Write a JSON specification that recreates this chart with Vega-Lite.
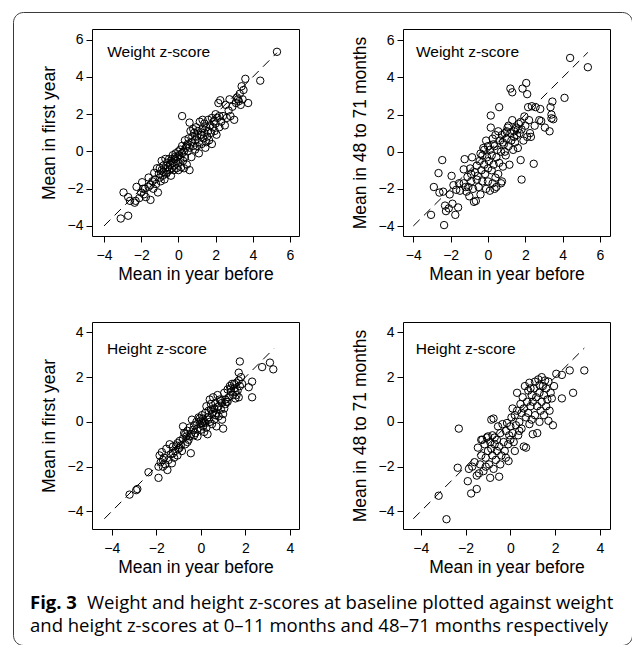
{
"$schema": "https://vega.github.io/schema/vega-lite/v6.json",
"width": 619, "height": 633,
"autosize": {"type": "none"},
"padding": {"left": 13, "top": 12, "right": 0, "bottom": 0},
"background": "white",
"config": {
 "font": "Liberation Sans",
 "view": {"stroke": "#3a3a3a", "strokeWidth": 1, "cornerRadius": 10},
 "text": {"font": "Liberation Sans"},
 "axis": {"grid": false, "domainColor": "black", "domainWidth": 1, "tickColor": "black", "tickSize": 6, "labelColor": "black", "labelFont": "Liberation Sans", "labelFontSize": 14, "titleFont": "Liberation Sans", "titleFontSize": 17.5, "titleFontWeight": "normal", "titleColor": "black", "labelFlush": false, "labelOverlap": false},
 "axisX": {"labelPadding": 6, "titlePadding": 3},
 "axisY": {"labelPadding": 3, "titlePadding": 9}
},
"datasets": {
 "p1": [{"x":-3.1,"y":-3.6},{"x":-2.7,"y":-3.45},{"x":-2.95,"y":-2.2},{"x":-2.7,"y":-2.45},{"x":-2.6,"y":-2.65},{"x":-2.35,"y":-2.75},{"x":-2.3,"y":-2.65},{"x":-2.25,"y":-1.9},{"x":-2.0,"y":-2.2},{"x":-1.95,"y":-1.65},{"x":-1.85,"y":-2.3},{"x":-1.8,"y":-2.0},{"x":-1.75,"y":-2.45},{"x":-1.6,"y":-1.9},{"x":-1.5,"y":-2.6},{"x":-1.5,"y":-1.8},{"x":-1.4,"y":-1.6},{"x":-1.35,"y":-2.0},{"x":-1.3,"y":-1.15},{"x":-1.25,"y":-1.5},{"x":-1.2,"y":-1.75},{"x":-1.1,"y":-2.2},{"x":-1.05,"y":-1.2},{"x":-1.0,"y":-0.9},{"x":-1.0,"y":-1.4},{"x":-0.95,"y":-1.6},{"x":-0.9,"y":-1.0},{"x":-0.85,"y":-1.3},{"x":-0.8,"y":-0.75},{"x":-0.8,"y":-1.1},{"x":-0.75,"y":-1.5},{"x":-0.7,"y":-0.9},{"x":-0.65,"y":-1.2},{"x":-0.6,"y":-0.6},{"x":-0.55,"y":-0.85},{"x":-0.5,"y":-1.0},{"x":-0.5,"y":-0.4},{"x":-0.45,"y":-0.7},{"x":-0.4,"y":-1.3},{"x":-0.4,"y":-0.5},{"x":-0.35,"y":-0.9},{"x":-0.3,"y":-0.2},{"x":-0.3,"y":-0.6},{"x":-0.25,"y":-1.0},{"x":-0.2,"y":-0.4},{"x":-0.2,"y":-0.75},{"x":-0.15,"y":-0.1},{"x":-0.1,"y":-0.5},{"x":-0.1,"y":-0.9},{"x":-0.05,"y":-0.3},{"x":0.0,"y":0.0},{"x":0.0,"y":-0.6},{"x":0.05,"y":-0.2},{"x":0.1,"y":-0.4},{"x":0.1,"y":0.1},{"x":0.15,"y":-0.85},{"x":0.2,"y":-0.1},{"x":0.2,"y":0.3},{"x":0.25,"y":-0.5},{"x":0.3,"y":0.0},{"x":0.35,"y":0.6},{"x":0.35,"y":-0.3},{"x":0.4,"y":0.2},{"x":0.45,"y":-0.7},{"x":0.5,"y":0.4},{"x":0.5,"y":0.0},{"x":0.55,"y":0.7},{"x":0.6,"y":-1.0},{"x":0.6,"y":0.2},{"x":0.65,"y":1.1},{"x":0.7,"y":0.5},{"x":0.7,"y":-0.3},{"x":0.75,"y":0.8},{"x":0.8,"y":0.3},{"x":0.85,"y":1.0},{"x":0.9,"y":0.1},{"x":0.9,"y":0.6},{"x":0.95,"y":1.3},{"x":1.0,"y":0.8},{"x":1.0,"y":0.3},{"x":1.05,"y":1.1},{"x":1.1,"y":0.5},{"x":1.1,"y":-0.1},{"x":1.15,"y":1.6},{"x":1.2,"y":0.9},{"x":1.25,"y":0.4},{"x":1.3,"y":1.2},{"x":1.35,"y":0.7},{"x":1.4,"y":1.5},{"x":1.4,"y":1.0},{"x":1.45,"y":0.2},{"x":1.5,"y":1.3},{"x":1.55,"y":0.8},{"x":1.6,"y":1.7},{"x":1.6,"y":1.1},{"x":1.65,"y":0.6},{"x":1.7,"y":1.4},{"x":1.75,"y":1.0},{"x":1.8,"y":1.8},{"x":1.8,"y":0.4},{"x":1.85,"y":1.3},{"x":1.9,"y":1.6},{"x":1.95,"y":1.1},{"x":2.0,"y":2.0},{"x":2.0,"y":1.5},{"x":2.05,"y":0.9},{"x":2.1,"y":1.8},{"x":2.15,"y":2.6},{"x":2.2,"y":1.3},{"x":2.25,"y":2.75},{"x":2.3,"y":1.6},{"x":2.4,"y":1.9},{"x":2.5,"y":1.4},{"x":2.6,"y":1.8},{"x":2.7,"y":2.2},{"x":2.75,"y":2.8},{"x":2.8,"y":1.9},{"x":2.9,"y":2.4},{"x":3.0,"y":1.7},{"x":3.1,"y":2.6},{"x":3.15,"y":2.9},{"x":3.25,"y":2.7},{"x":3.3,"y":3.1},{"x":3.35,"y":2.5},{"x":3.4,"y":3.5},{"x":3.45,"y":2.8},{"x":3.5,"y":3.3},{"x":3.6,"y":3.9},{"x":3.75,"y":2.6},{"x":4.4,"y":3.8},{"x":5.3,"y":5.35},{"x":0.2,"y":1.9},{"x":0.6,"y":1.55},{"x":-0.6,"y":-1.1},{"x":-0.9,"y":-0.5},{"x":-1.15,"y":-0.9},{"x":0.3,"y":-0.9},{"x":-0.2,"y":-0.3},{"x":0.0,"y":-1.0},{"x":-0.7,"y":-0.4},{"x":0.45,"y":0.3},{"x":1.25,"y":0.9},{"x":1.5,"y":0.5},{"x":0.8,"y":1.2},{"x":-1.6,"y":-1.4},{"x":-2.1,"y":-2.5},{"x":-1.9,"y":-2.0},{"x":3.2,"y":2.8},{"x":2.55,"y":2.5},{"x":2.2,"y":1.9},{"x":1.3,"y":1.7}],
 "p2": [{"x":-3.05,"y":-3.4},{"x":-2.9,"y":-1.9},{"x":-2.65,"y":-1.15},{"x":-2.6,"y":-2.2},{"x":-2.45,"y":-0.45},{"x":-2.4,"y":-2.15},{"x":-2.35,"y":-3.95},{"x":-2.3,"y":-2.9},{"x":-2.25,"y":-3.2},{"x":-2.1,"y":-3.05},{"x":-2.05,"y":-2.3},{"x":-1.95,"y":-1.3},{"x":-1.9,"y":-2.8},{"x":-1.85,"y":-1.8},{"x":-1.75,"y":-3.4},{"x":-1.7,"y":-2.05},{"x":-1.6,"y":-3.0},{"x":-1.55,"y":-1.7},{"x":-1.5,"y":-2.1},{"x":-1.3,"y":-0.95},{"x":-1.25,"y":-0.4},{"x":-1.2,"y":-1.9},{"x":-1.15,"y":-2.15},{"x":-1.1,"y":-1.35},{"x":-1.0,"y":-2.4},{"x":-0.95,"y":-0.9},{"x":-0.9,"y":-1.6},{"x":-0.85,"y":-0.3},{"x":-0.8,"y":-2.0},{"x":-0.75,"y":-2.7},{"x":-0.7,"y":-1.1},{"x":-0.65,"y":-2.65},{"x":-0.6,"y":-0.75},{"x":-0.55,"y":-1.3},{"x":-0.5,"y":-1.9},{"x":-0.45,"y":-0.5},{"x":-0.4,"y":-2.3},{"x":-0.35,"y":-1.0},{"x":-0.3,"y":-0.2},{"x":-0.3,"y":-1.6},{"x":-0.25,"y":0.2},{"x":-0.2,"y":-0.7},{"x":-0.15,"y":-1.2},{"x":-0.1,"y":0.6},{"x":-0.1,"y":-2.0},{"x":-0.05,"y":-0.3},{"x":0.0,"y":0.3},{"x":0.0,"y":-0.9},{"x":0.05,"y":-0.5},{"x":0.1,"y":-2.1},{"x":0.1,"y":0.1},{"x":0.15,"y":1.95},{"x":0.15,"y":1.3},{"x":0.2,"y":-0.2},{"x":0.25,"y":-1.7},{"x":0.25,"y":0.7},{"x":0.3,"y":-0.7},{"x":0.35,"y":0.3},{"x":0.4,"y":-1.4},{"x":0.4,"y":0.9},{"x":0.45,"y":-0.3},{"x":0.45,"y":-1.9},{"x":0.5,"y":0.1},{"x":0.55,"y":1.1},{"x":0.6,"y":2.4},{"x":0.6,"y":-0.6},{"x":0.65,"y":0.6},{"x":0.7,"y":-1.7},{"x":0.7,"y":0.0},{"x":0.75,"y":0.9},{"x":0.8,"y":-0.8},{"x":0.85,"y":0.4},{"x":0.9,"y":1.0},{"x":0.95,"y":-0.2},{"x":1.0,"y":0.7},{"x":1.05,"y":1.3},{"x":1.1,"y":0.3},{"x":1.15,"y":-0.7},{"x":1.2,"y":1.0},{"x":1.2,"y":3.4},{"x":1.25,"y":0.6},{"x":1.3,"y":3.2},{"x":1.3,"y":1.7},{"x":1.35,"y":0.1},{"x":1.4,"y":1.1},{"x":1.45,"y":0.5},{"x":1.5,"y":1.3},{"x":1.55,"y":0.9},{"x":1.6,"y":0.2},{"x":1.65,"y":1.5},{"x":1.7,"y":1.0},{"x":1.75,"y":-0.45},{"x":1.8,"y":1.2},{"x":1.8,"y":-1.5},{"x":1.85,"y":3.4},{"x":1.9,"y":0.6},{"x":1.95,"y":1.9},{"x":2.0,"y":1.4},{"x":2.05,"y":3.7},{"x":2.1,"y":3.1},{"x":2.1,"y":0.8},{"x":2.15,"y":2.4},{"x":2.2,"y":1.7},{"x":2.25,"y":1.0},{"x":2.3,"y":0.8},{"x":2.35,"y":2.45},{"x":2.45,"y":-0.65},{"x":2.5,"y":1.4},{"x":2.55,"y":2.4},{"x":2.75,"y":1.7},{"x":2.8,"y":2.3},{"x":2.85,"y":1.65},{"x":3.05,"y":1.3},{"x":3.3,"y":1.1},{"x":3.35,"y":2.4},{"x":3.4,"y":2.0},{"x":3.4,"y":1.8},{"x":3.45,"y":2.7},{"x":3.5,"y":1.75},{"x":4.1,"y":2.9},{"x":4.4,"y":5.05},{"x":5.35,"y":4.55},{"x":-0.2,"y":0.1},{"x":0.3,"y":0.4},{"x":-0.6,"y":-1.5},{"x":-0.9,"y":-1.2},{"x":0.8,"y":0.5},{"x":1.0,"y":1.1},{"x":1.4,"y":0.8},{"x":0.2,"y":-1.0},{"x":-0.4,"y":-0.1},{"x":0.55,"y":-1.2},{"x":-1.3,"y":-1.7},{"x":-1.05,"y":-1.9},{"x":0.0,"y":-1.6},{"x":0.35,"y":-2.0},{"x":0.75,"y":-1.6},{"x":1.1,"y":1.4},{"x":1.6,"y":1.2},{"x":1.75,"y":1.6},{"x":0.9,"y":0.0}],
 "p3": [{"x":-3.2,"y":-3.25},{"x":-2.9,"y":-3.05},{"x":-2.85,"y":-3.0},{"x":-2.35,"y":-2.25},{"x":-1.9,"y":-2.5},{"x":-1.9,"y":-2.0},{"x":-1.85,"y":-1.5},{"x":-1.8,"y":-1.8},{"x":-1.75,"y":-1.35},{"x":-1.7,"y":-2.0},{"x":-1.65,"y":-1.6},{"x":-1.6,"y":-1.9},{"x":-1.55,"y":-1.2},{"x":-1.5,"y":-2.15},{"x":-1.45,"y":-1.7},{"x":-1.4,"y":-1.0},{"x":-1.35,"y":-1.45},{"x":-1.3,"y":-1.85},{"x":-1.25,"y":-1.1},{"x":-1.2,"y":-1.6},{"x":-1.15,"y":-1.3},{"x":-1.1,"y":-1.05},{"x":-1.05,"y":-1.5},{"x":-1.0,"y":-1.2},{"x":-0.95,"y":-0.85},{"x":-0.9,"y":-1.05},{"x":-0.85,"y":-1.3},{"x":-0.8,"y":-0.2},{"x":-0.8,"y":-0.75},{"x":-0.75,"y":-0.5},{"x":-0.7,"y":-1.0},{"x":-0.65,"y":-0.65},{"x":-0.6,"y":-0.4},{"x":-0.55,"y":-0.8},{"x":-0.5,"y":-0.25},{"x":-0.45,"y":-1.4},{"x":-0.45,"y":-0.55},{"x":-0.4,"y":0.1},{"x":-0.35,"y":-0.35},{"x":-0.3,"y":-0.15},{"x":-0.25,"y":-0.5},{"x":-0.2,"y":0.0},{"x":-0.15,"y":-0.3},{"x":-0.1,"y":0.2},{"x":-0.05,"y":-0.1},{"x":0.0,"y":0.05},{"x":0.0,"y":-0.35},{"x":0.05,"y":0.3},{"x":0.1,"y":-0.2},{"x":0.1,"y":0.15},{"x":0.15,"y":-0.45},{"x":0.2,"y":0.4},{"x":0.2,"y":-0.05},{"x":0.25,"y":0.7},{"x":0.3,"y":0.2},{"x":0.3,"y":-0.55},{"x":0.35,"y":0.5},{"x":0.4,"y":1.0},{"x":0.4,"y":0.0},{"x":0.45,"y":0.8},{"x":0.5,"y":0.35},{"x":0.5,"y":-0.1},{"x":0.55,"y":1.1},{"x":0.6,"y":0.6},{"x":0.6,"y":0.1},{"x":0.65,"y":0.85},{"x":0.7,"y":-0.2},{"x":0.7,"y":0.4},{"x":0.75,"y":1.2},{"x":0.8,"y":0.7},{"x":0.8,"y":0.25},{"x":0.85,"y":1.0},{"x":0.9,"y":0.55},{"x":0.95,"y":0.1},{"x":0.95,"y":0.85},{"x":1.0,"y":-0.3},{"x":1.0,"y":0.35},{"x":1.05,"y":1.3},{"x":1.1,"y":0.8},{"x":1.15,"y":0.9},{"x":1.2,"y":1.45},{"x":1.25,"y":1.1},{"x":1.3,"y":1.6},{"x":1.35,"y":1.35},{"x":1.4,"y":1.7},{"x":1.45,"y":1.2},{"x":1.5,"y":1.5},{"x":1.55,"y":1.05},{"x":1.6,"y":1.75},{"x":1.65,"y":1.4},{"x":1.7,"y":1.85},{"x":1.7,"y":1.1},{"x":1.75,"y":2.7},{"x":1.75,"y":1.6},{"x":1.8,"y":2.0},{"x":1.85,"y":1.7},{"x":1.7,"y":2.2},{"x":2.15,"y":1.55},{"x":2.3,"y":1.8},{"x":2.3,"y":1.1},{"x":2.75,"y":2.45},{"x":3.1,"y":2.65},{"x":3.25,"y":2.35},{"x":-0.95,"y":-1.15},{"x":-0.6,"y":-0.9},{"x":-0.3,"y":-0.6},{"x":0.05,"y":-0.05},{"x":0.35,"y":0.1},{"x":0.55,"y":0.45},{"x":0.75,"y":0.65},{"x":1.1,"y":1.0},{"x":1.2,"y":0.9},{"x":1.35,"y":1.5},{"x":1.5,"y":1.7},{"x":1.55,"y":1.35},{"x":1.6,"y":1.2},{"x":-1.05,"y":-0.95},{"x":-1.25,"y":-1.4},{"x":-1.7,"y":-1.7},{"x":-0.15,"y":-0.65},{"x":0.25,"y":-0.25},{"x":0.45,"y":0.55},{"x":0.65,"y":0.3},{"x":0.9,"y":0.95},{"x":1.05,"y":0.6},{"x":-0.7,"y":-0.55},{"x":-0.5,"y":-0.65},{"x":-0.05,"y":0.15},{"x":0.15,"y":0.0}],
 "p4": [{"x":-3.2,"y":-3.3},{"x":-2.85,"y":-4.35},{"x":-2.35,"y":-2.05},{"x":-2.3,"y":-0.3},{"x":-1.9,"y":-2.65},{"x":-1.85,"y":-2.1},{"x":-1.75,"y":-3.2},{"x":-1.7,"y":-2.0},{"x":-1.6,"y":-1.8},{"x":-1.5,"y":-3.0},{"x":-1.5,"y":-2.4},{"x":-1.45,"y":-1.15},{"x":-1.4,"y":-2.3},{"x":-1.35,"y":-1.9},{"x":-1.3,"y":-1.5},{"x":-1.25,"y":-0.8},{"x":-1.2,"y":-2.2},{"x":-1.15,"y":-1.0},{"x":-1.1,"y":-1.6},{"x":-1.05,"y":-0.7},{"x":-1.0,"y":-1.3},{"x":-0.95,"y":-1.9},{"x":-0.9,"y":-0.9},{"x":-0.9,"y":-2.5},{"x":-0.85,"y":0.1},{"x":-0.85,"y":-1.2},{"x":-0.8,"y":-0.6},{"x":-0.8,"y":-1.5},{"x":-0.75,"y":-2.1},{"x":-0.75,"y":0.15},{"x":-0.7,"y":-1.0},{"x":-0.65,"y":-1.7},{"x":-0.6,"y":-0.8},{"x":-0.6,"y":-1.3},{"x":-0.55,"y":-0.2},{"x":-0.5,"y":-2.45},{"x":-0.5,"y":-1.1},{"x":-0.45,"y":-0.5},{"x":-0.4,"y":-1.5},{"x":-0.35,"y":-0.1},{"x":-0.3,"y":-0.9},{"x":-0.25,"y":-1.3},{"x":-0.2,"y":-0.4},{"x":-0.15,"y":-0.05},{"x":-0.1,"y":-1.0},{"x":-0.08,"y":-1.75},{"x":-0.05,"y":-0.6},{"x":0.0,"y":-0.2},{"x":0.05,"y":0.2},{"x":0.1,"y":-0.5},{"x":0.15,"y":-0.9},{"x":0.2,"y":0.3},{"x":0.25,"y":-0.15},{"x":0.3,"y":1.3},{"x":0.3,"y":0.5},{"x":0.35,"y":-0.6},{"x":0.4,"y":0.0},{"x":0.45,"y":0.8},{"x":0.5,"y":-0.3},{"x":0.5,"y":0.4},{"x":0.55,"y":1.1},{"x":0.6,"y":-1.1},{"x":0.6,"y":0.6},{"x":0.65,"y":1.6},{"x":0.7,"y":-1.15},{"x":0.7,"y":0.2},{"x":0.75,"y":0.9},{"x":0.8,"y":1.4},{"x":0.8,"y":0.4},{"x":0.85,"y":1.75},{"x":0.85,"y":-0.1},{"x":0.9,"y":0.7},{"x":0.95,"y":1.2},{"x":0.95,"y":0.1},{"x":1.0,"y":-0.55},{"x":1.0,"y":0.9},{"x":1.05,"y":1.5},{"x":1.1,"y":0.3},{"x":1.15,"y":1.1},{"x":1.2,"y":-0.5},{"x":1.2,"y":0.7},{"x":1.25,"y":1.9},{"x":1.3,"y":0.0},{"x":1.3,"y":1.3},{"x":1.35,"y":0.5},{"x":1.4,"y":2.0},{"x":1.4,"y":0.9},{"x":1.45,"y":1.6},{"x":1.5,"y":0.3},{"x":1.5,"y":1.2},{"x":1.55,"y":1.85},{"x":1.6,"y":0.7},{"x":1.6,"y":1.5},{"x":1.65,"y":1.0},{"x":1.7,"y":0.05},{"x":1.7,"y":1.8},{"x":1.75,"y":0.5},{"x":1.8,"y":1.3},{"x":1.85,"y":1.05},{"x":1.9,"y":-0.15},{"x":1.95,"y":1.6},{"x":2.05,"y":2.15},{"x":2.3,"y":2.1},{"x":2.3,"y":1.05},{"x":2.65,"y":2.3},{"x":2.8,"y":1.3},{"x":3.3,"y":2.3},{"x":-1.0,"y":-0.65},{"x":-0.7,"y":-0.7},{"x":-1.3,"y":-0.8},{"x":0.1,"y":0.6},{"x":0.0,"y":-0.8},{"x":0.4,"y":-0.4},{"x":1.1,"y":1.8},{"x":1.3,"y":1.65},{"x":0.9,"y":1.5},{"x":-0.2,"y":-1.6},{"x":-0.45,"y":-1.9},{"x":-1.1,"y":-2.0},{"x":0.2,"y":-1.3}],
 "d1": [{"x":-4,"y":-4},{"x":5.3,"y":5.3}],
 "d2": [{"x":-4,"y":-4},{"x":5.35,"y":5.35}],
 "d3": [{"x":-4.33,"y":-4.33},{"x":3.28,"y":3.28}],
 "d4": [{"x":-4.33,"y":-4.33},{"x":3.3,"y":3.3}]
},
"layer": [
 {"layer": [
  {"data": {"name": "p1"}, "mark": {"type": "point", "shape": "circle", "filled": false, "color": "black", "strokeWidth": 1, "size": 55, "opacity": 1},
   "encoding": {
    "x": {"field": "x", "type": "quantitative", "scale": {"domain": [-4.645, 6.484], "range": [79, 286], "nice": false, "zero": false}, "axis": {"orient": "bottom", "offset": -409, "values": [-4,-2,0,2,4,6], "title": "Mean in year before"}},
    "y": {"field": "y", "type": "quantitative", "scale": {"domain": [-4.537, 6.574], "range": [224, 17], "nice": false, "zero": false}, "axis": {"orient": "left", "offset": -79, "values": [-4,-2,0,2,4,6], "title": "Mean in first year"}}}},
  {"data": {"name": "d1"}, "mark": {"type": "line", "color": "black", "strokeWidth": 1, "strokeDash": [9, 6]},
   "encoding": {
    "x": {"field": "x", "type": "quantitative", "scale": {"domain": [-4.645, 6.484], "range": [79, 286], "nice": false, "zero": false}, "axis": {"orient": "top", "offset": -17, "labels": false, "ticks": false, "title": null}},
    "y": {"field": "y", "type": "quantitative", "scale": {"domain": [-4.537, 6.574], "range": [224, 17], "nice": false, "zero": false}, "axis": {"orient": "right", "offset": -333, "labels": false, "ticks": false, "title": null}}}},
  {"data": {"values": [{"label": "Weight z-score"}]}, "mark": {"type": "text", "align": "left", "baseline": "alphabetic", "font": "Liberation Sans", "fontSize": 15.5, "color": "black"},
   "encoding": {"text": {"field": "label"}, "x": {"datum": -3.83, "type": "quantitative", "axis": null}, "y": {"datum": 5.09, "type": "quantitative", "axis": null}}}
 ], "resolve": {"axis": {"x": "independent", "y": "independent"}}},
 {"layer": [
  {"data": {"name": "p2"}, "mark": {"type": "point", "shape": "circle", "filled": false, "color": "black", "strokeWidth": 1, "size": 55, "opacity": 1},
   "encoding": {
    "x": {"field": "x", "type": "quantitative", "scale": {"domain": [-4.552, 6.536], "range": [390, 597], "nice": false, "zero": false}, "axis": {"orient": "bottom", "offset": -409, "values": [-4,-2,0,2,4,6], "title": "Mean in year before"}},
    "y": {"field": "y", "type": "quantitative", "scale": {"domain": [-4.538, 6.608], "range": [224, 17], "nice": false, "zero": false}, "axis": {"orient": "left", "offset": -390, "values": [-4,-2,0,2,4,6], "title": "Mean in 48 to 71 months"}}}},
  {"data": {"name": "d2"}, "mark": {"type": "line", "color": "black", "strokeWidth": 1, "strokeDash": [9, 6]},
   "encoding": {
    "x": {"field": "x", "type": "quantitative", "scale": {"domain": [-4.552, 6.536], "range": [390, 597], "nice": false, "zero": false}, "axis": {"orient": "top", "offset": -17, "labels": false, "ticks": false, "title": null}},
    "y": {"field": "y", "type": "quantitative", "scale": {"domain": [-4.538, 6.608], "range": [224, 17], "nice": false, "zero": false}, "axis": {"orient": "right", "offset": -22, "labels": false, "ticks": false, "title": null}}}},
  {"data": {"values": [{"label": "Weight z-score"}]}, "mark": {"type": "text", "align": "left", "baseline": "alphabetic", "font": "Liberation Sans", "fontSize": 15.5, "color": "black"},
   "encoding": {"text": {"field": "label"}, "x": {"datum": -3.86, "type": "quantitative", "axis": null}, "y": {"datum": 5.12, "type": "quantitative", "axis": null}}}
 ], "resolve": {"axis": {"x": "independent", "y": "independent"}}},
 {"layer": [
  {"data": {"name": "p3"}, "mark": {"type": "point", "shape": "circle", "filled": false, "color": "black", "strokeWidth": 1, "size": 55, "opacity": 1},
   "encoding": {
    "x": {"field": "x", "type": "quantitative", "scale": {"domain": [-4.884, 4.404], "range": [79, 286], "nice": false, "zero": false}, "axis": {"orient": "bottom", "offset": -116, "values": [-4,-2,0,2,4], "title": "Mean in year before"}},
    "y": {"field": "y", "type": "quantitative", "scale": {"domain": [-4.787, 4.465], "range": [517, 310], "nice": false, "zero": false}, "axis": {"orient": "left", "offset": -79, "values": [-4,-2,0,2,4], "title": "Mean in first year"}}}},
  {"data": {"name": "d3"}, "mark": {"type": "line", "color": "black", "strokeWidth": 1, "strokeDash": [9, 6]},
   "encoding": {
    "x": {"field": "x", "type": "quantitative", "scale": {"domain": [-4.884, 4.404], "range": [79, 286], "nice": false, "zero": false}, "axis": {"orient": "top", "offset": -310, "labels": false, "ticks": false, "title": null}},
    "y": {"field": "y", "type": "quantitative", "scale": {"domain": [-4.787, 4.465], "range": [517, 310], "nice": false, "zero": false}, "axis": {"orient": "right", "offset": -333, "labels": false, "ticks": false, "title": null}}}},
  {"data": {"values": [{"label": "Height z-score"}]}, "mark": {"type": "text", "align": "left", "baseline": "alphabetic", "font": "Liberation Sans", "fontSize": 15.5, "color": "black"},
   "encoding": {"text": {"field": "label"}, "x": {"datum": -4.21, "type": "quantitative", "axis": null}, "y": {"datum": 3.03, "type": "quantitative", "axis": null}}}
 ], "resolve": {"axis": {"x": "independent", "y": "independent"}}},
 {"layer": [
  {"data": {"name": "p4"}, "mark": {"type": "point", "shape": "circle", "filled": false, "color": "black", "strokeWidth": 1, "size": 55, "opacity": 1},
   "encoding": {
    "x": {"field": "x", "type": "quantitative", "scale": {"domain": [-4.791, 4.447], "range": [390, 597], "nice": false, "zero": false}, "axis": {"orient": "bottom", "offset": -116, "values": [-4,-2,0,2,4], "title": "Mean in year before"}},
    "y": {"field": "y", "type": "quantitative", "scale": {"domain": [-4.787, 4.465], "range": [517, 310], "nice": false, "zero": false}, "axis": {"orient": "left", "offset": -390, "values": [-4,-2,0,2,4], "title": "Mean in 48 to 71 months"}}}},
  {"data": {"name": "d4"}, "mark": {"type": "line", "color": "black", "strokeWidth": 1, "strokeDash": [9, 6]},
   "encoding": {
    "x": {"field": "x", "type": "quantitative", "scale": {"domain": [-4.791, 4.447], "range": [390, 597], "nice": false, "zero": false}, "axis": {"orient": "top", "offset": -310, "labels": false, "ticks": false, "title": null}},
    "y": {"field": "y", "type": "quantitative", "scale": {"domain": [-4.787, 4.465], "range": [517, 310], "nice": false, "zero": false}, "axis": {"orient": "right", "offset": -22, "labels": false, "ticks": false, "title": null}}}},
  {"data": {"values": [{"label": "Height z-score"}]}, "mark": {"type": "text", "align": "left", "baseline": "alphabetic", "font": "Liberation Sans", "fontSize": 15.5, "color": "black"},
   "encoding": {"text": {"field": "label"}, "x": {"datum": -4.22, "type": "quantitative", "axis": null}, "y": {"datum": 3.03, "type": "quantitative", "axis": null}}}
 ], "resolve": {"axis": {"x": "independent", "y": "independent"}}},
 {"layer": [
  {"data": {"values": [{"t": "Fig. 3"}]}, "mark": {"type": "text", "align": "left", "baseline": "alphabetic", "font": "Open Sans", "fontSize": 18.5, "fontWeight": "bold", "color": "black"},
   "encoding": {"text": {"field": "t"}, "x": {"datum": 0, "type": "quantitative", "scale": {"domain": [0, 1], "range": [17, 74]}, "axis": null}, "y": {"datum": 1, "type": "quantitative", "scale": {"domain": [1, 2], "range": [597, 620]}, "axis": null}}},
  {"data": {"values": [{"t": "Weight and height z-scores at baseline plotted against weight"}]}, "mark": {"type": "text", "align": "left", "baseline": "alphabetic", "font": "Open Sans", "fontSize": 18.5, "color": "black"},
   "encoding": {"text": {"field": "t"}, "x": {"datum": 1, "type": "quantitative", "scale": {"domain": [0, 1], "range": [17, 74]}, "axis": null}, "y": {"datum": 1, "type": "quantitative", "scale": {"domain": [1, 2], "range": [597, 620]}, "axis": null}}},
  {"data": {"values": [{"t": "and height z-scores at 0–11 months and 48–71 months respectively"}]}, "mark": {"type": "text", "align": "left", "baseline": "alphabetic", "font": "Open Sans", "fontSize": 18.5, "color": "black"},
   "encoding": {"text": {"field": "t"}, "x": {"datum": 0, "type": "quantitative", "scale": {"domain": [0, 1], "range": [17, 74]}, "axis": null}, "y": {"datum": 2, "type": "quantitative", "scale": {"domain": [1, 2], "range": [597, 620]}, "axis": null}}}
 ]}
],
"resolve": {"scale": {"x": "independent", "y": "independent"}, "axis": {"x": "independent", "y": "independent"}}
}
